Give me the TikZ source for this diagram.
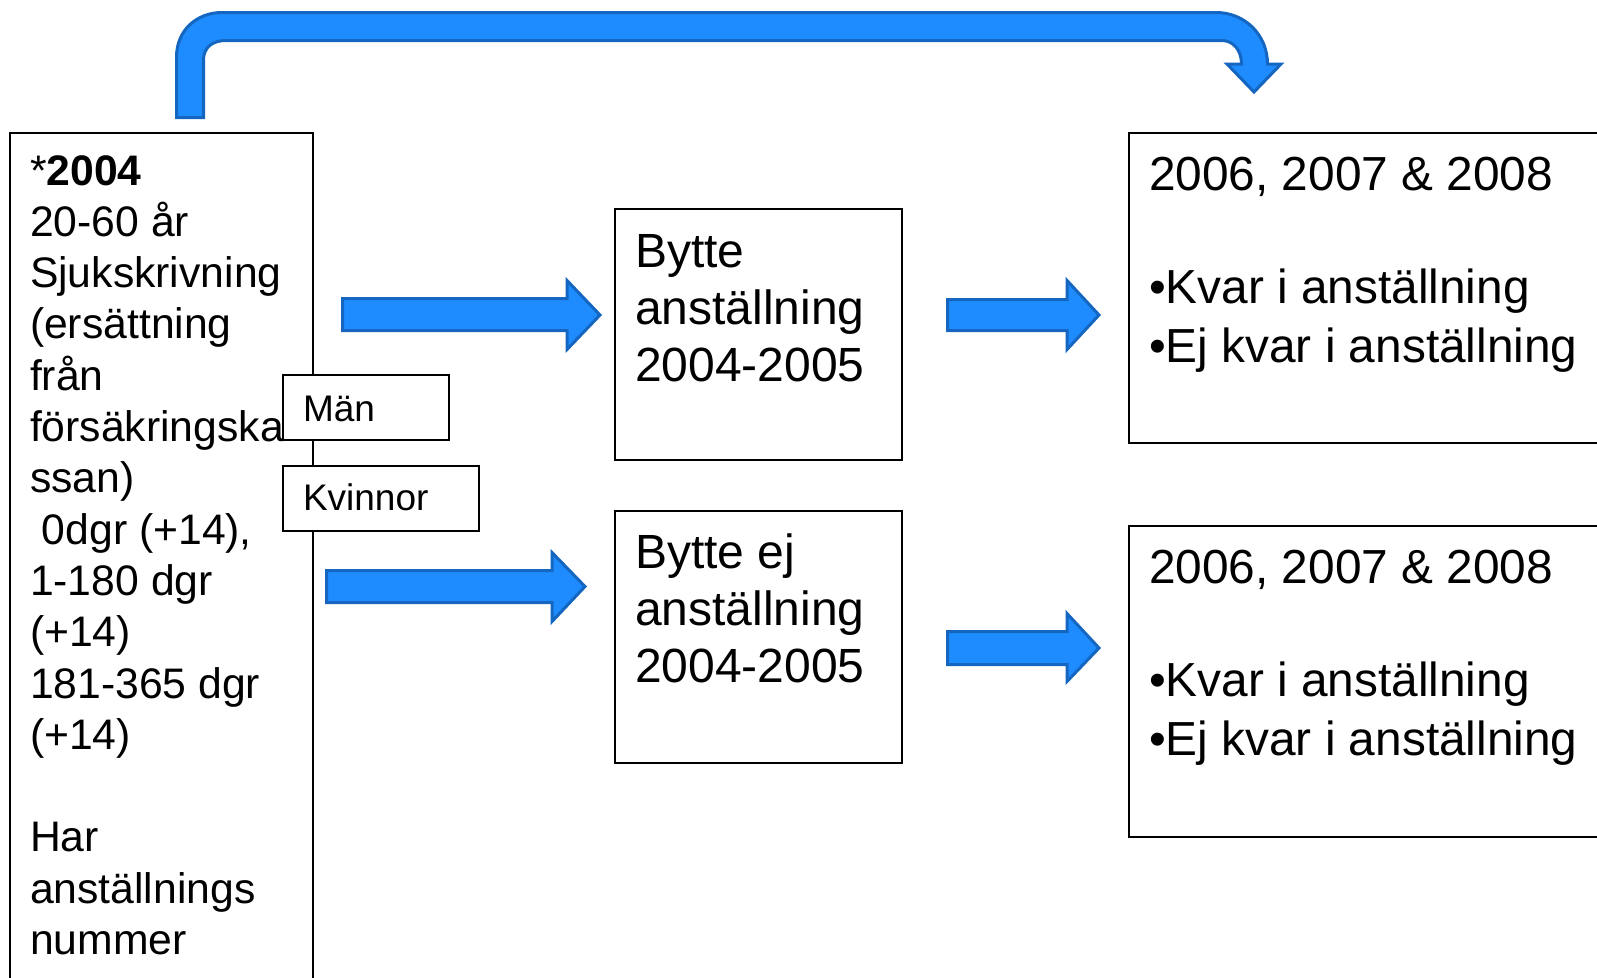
\documentclass[tikz,border=0pt]{standalone}
\usepackage{fontspec}
\setmainfont{Liberation Sans}
\definecolor{afill}{RGB}{30,140,255}
\definecolor{adraw}{RGB}{20,102,192}
\tikzset{
  box/.style={draw=black, line width=2, fill=white, inner sep=0, outer sep=0, anchor=north west},
  blockarrow/.style={fill=afill, draw=adraw, line width=3, line join=miter},
  txt/.style={inner sep=0, outer sep=0, anchor=base west},
}
\begin{document}
\begin{tikzpicture}[x=1pt,y=-1pt]
\useasboundingbox (0,0) rectangle (1597,977);
\clip (0,0) rectangle (1597,977);

% left box
\node[box, minimum width=303, minimum height=880] (leftbox) at (10,133) {};
\node[txt] (lefttext) at (30,185) {\parbox[t]{290pt}{\raggedright\fontsize{42.7}{51.3}\selectfont
*\textbf{2004}\\
20-60 år\\
Sjukskrivning\\
(ersättning\\
från\\
försäkringska\\
ssan)\\
\hspace*{0.278em}0dgr (+14),\\
1-180 dgr\\
(+14)\\
181-365 dgr\\
(+14)\\
\mbox{}\\
Har\\
anställnings\\
nummer}};

% Män / Kvinnor
\node[box, minimum width=166, minimum height=65] (man) at (283,375) {};
\node[txt] (mantext) at (303,421) {\fontsize{37}{40}\selectfont Män};
\node[box, minimum width=196, minimum height=65] (kvinnor) at (283,466) {};
\node[txt] (kvtext) at (303,510) {\fontsize{37}{40}\selectfont Kvinnor};

% middle boxes
\node[box, minimum width=287, minimum height=251] (byt) at (615,209) {};
\node[txt] (byttext) at (635,267) {\parbox[t]{270pt}{\raggedright\fontsize{48}{57}\selectfont
Bytte\\ anställning\\ 2004-2005}};
\node[box, minimum width=287, minimum height=252] (bytej) at (615,511) {};
\node[txt] (bytejtext) at (635,568) {\parbox[t]{270pt}{\raggedright\fontsize{48}{57}\selectfont
Bytte ej\\ anställning\\ 2004-2005}};

% right boxes
\node[box, minimum width=481, minimum height=310] (res1) at (1129,133) {};
\node[txt] (res1h) at (1149,190) {\fontsize{47.8}{50}\selectfont 2006, 2007 \& 2008};
\node[txt] (res1b) at (1149,303) {\parbox[t]{460pt}{\raggedright\fontsize{47.8}{59.5}\selectfont
•Kvar i anställning\\ •Ej kvar i anställning}};
\node[box, minimum width=481, minimum height=311] (res2) at (1129,526) {};
\node[txt] (res2h) at (1149,583) {\fontsize{47.8}{50}\selectfont 2006, 2007 \& 2008};
\node[txt] (res2b) at (1149,696) {\parbox[t]{460pt}{\raggedright\fontsize{47.8}{59.5}\selectfont
•Kvar i anställning\\ •Ej kvar i anställning}};

% block arrows
\draw[blockarrow] (342.5,298.5) -- (567,298.5) -- (567,280.5) -- (600,315) -- (567,349.5) -- (567,330.5) -- (342.5,330.5) -- cycle;
\draw[blockarrow] (326.5,570.5) -- (552,570.5) -- (552,552.5) -- (585,586.5) -- (552,621.5) -- (552,602.5) -- (326.5,602.5) -- cycle;
\draw[blockarrow] (947.5,299.5) -- (1067,299.5) -- (1067,280.5) -- (1099,315) -- (1067,349.5) -- (1067,330.5) -- (947.5,330.5) -- cycle;
\draw[blockarrow] (947.5,631.5) -- (1067,631.5) -- (1067,613.5) -- (1099,648) -- (1067,681.5) -- (1067,664.5) -- (947.5,664.5) -- cycle;

% U-turn arrow
\draw[blockarrow] (176.5,117.5) -- (176.5,57) .. controls (176.5,30) and (197,12.5) .. (222,12.5)
  -- (1216,12.5) .. controls (1245,12.5) and (1267.5,35) .. (1267.5,64)
  -- (1281,64) -- (1254,92) -- (1227,64) -- (1241.5,64)
  .. controls (1241.5,50) and (1233,40.5) .. (1222,40.5)
  -- (226,40.5) .. controls (213,40.5) and (203.5,47) .. (203.5,60)
  -- (203.5,117.5) -- cycle;
\end{tikzpicture}
\end{document}
